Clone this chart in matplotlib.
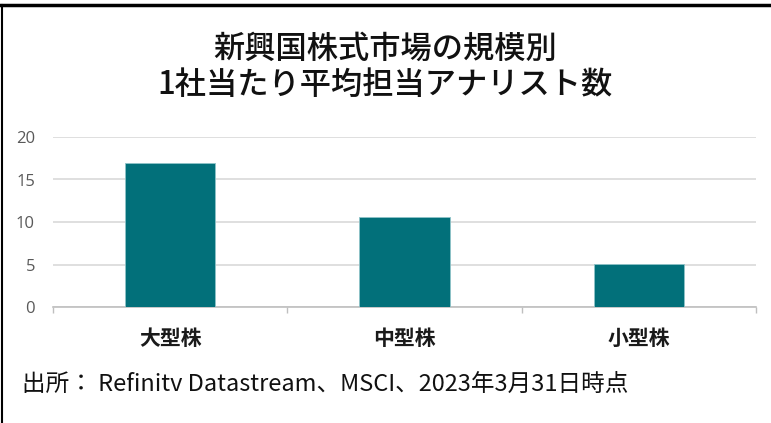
import matplotlib
matplotlib.use("Agg")
import matplotlib.pyplot as plt
from matplotlib.lines import Line2D

plt.rcParams['font.family'] = ['Noto Sans CJK JP', 'DejaVu Sans']

categories = ["大型株", "中型株", "小型株"]
values = [16.9, 10.6, 5.1]
yticks = [0, 5, 10, 15, 20]
title = "新興国株式市場の規模別\n1社当たり平均担当アナリスト数"
source = "出所： Refinitv Datastream、MSCI、2023年3月31日時点"

W, H = 771, 423
fig = plt.figure(figsize=(W / 100, H / 100), dpi=100)
fig.patch.set_facecolor("white")

ax = fig.add_axes([53 / W, 1 - 307 / H, (756 - 53) / W, (307 - 137) / H])
x = list(range(len(categories)))
ax.bar(x, values, width=0.385, color="#02707A", edgecolor="#8FC3C8", linewidth=0.6, zorder=3)
ax.set_xlim(-0.5, len(categories) - 0.5)
ax.set_ylim(0, 20)
ax.set_yticks(yticks)
ax.set_yticklabels([str(v) for v in yticks], fontsize=12, color="#595959", family=['Open Sans', 'DejaVu Sans'])
ax.yaxis.grid(True, color="#D9D9D9", linewidth=1.2, zorder=0)
ax.tick_params(axis='y', length=0, pad=13)
ax.set_xticks(x)
ax.set_xticklabels(categories, fontsize=15, fontweight='bold', color="#1A1A1A")
ax.set_xticks([i - 0.5 for i in range(len(categories) + 1)], minor=True)
ax.tick_params(axis='x', which='major', length=0, pad=15)
ax.tick_params(axis='x', which='minor', length=4, color="#BFBFBF", width=1)
for s in ['top', 'right', 'left']:
    ax.spines[s].set_visible(False)
ax.spines['bottom'].set_color("#BFBFBF")
ax.spines['bottom'].set_linewidth(1.2)
ax.set_facecolor("white")

fig.text(385 / W, 1 - 67 / H, title, ha='center', va='center', fontsize=22.5,
         color="#111111", linespacing=1.15, fontweight='medium')
fig.text(22 / W, 1 - 384 / H, source, ha='left', va='center', fontsize=17, color="#111111")

# frame lines
fig.add_artist(Line2D([0, 1], [1 - 5.5 / H, 1 - 5.5 / H], transform=fig.transFigure, color="black", linewidth=2.5))
fig.add_artist(Line2D([1.5 / W, 1.5 / W], [0, 1 - 5.5 / H], transform=fig.transFigure, color="black", linewidth=1.5))

fig.savefig("out.png", dpi=100, facecolor="white")
